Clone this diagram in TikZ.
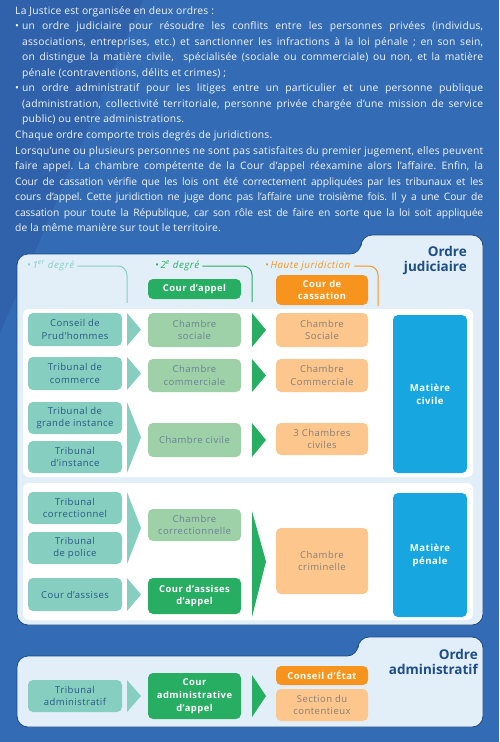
\documentclass[tikz,border=0pt]{standalone}
\usepackage{fontspec}
\setmainfont{Open Sans}
\newfontfamily\boxfont[LetterSpace=5]{Open Sans}
\newfontfamily\introfont[LetterSpace=2]{Open Sans}
\usetikzlibrary{positioning, calc}
\definecolor{bgblue}{HTML}{336CB4}
\definecolor{bgdark}{HTML}{2F62AA}
\definecolor{panel}{HTML}{E3EFF8}
\definecolor{edge}{HTML}{1C4A84}
\definecolor{navy}{HTML}{1D4E89}
\definecolor{tealc}{HTML}{86CFC0}
\definecolor{sage}{HTML}{9FD1A9}
\definecolor{leaf}{HTML}{27AE62}
\definecolor{peach}{HTML}{FDC68C}
\definecolor{amber}{HTML}{F7941D}
\definecolor{sky}{HTML}{17A6DF}
\definecolor{boxtext}{HTML}{285885}
\definecolor{greytext}{HTML}{6A8293}
\definecolor{peachtext}{HTML}{868079}

\begin{document}
\begin{tikzpicture}[
    x=1pt, y=-1pt,
    box/.style={rectangle, rounded corners=5pt, minimum height=33pt, inner sep=1pt, outer sep=0pt, align=center, font=\boxfont\fontsize{9.5}{12.8}\selectfont},
    firstbox/.style={box, fill=tealc, text=boxtext, minimum width=94pt},
    chambox/.style={box, fill=sage, text=greytext, minimum width=93pt},
    cassbox/.style={box, fill=peach, text=peachtext, minimum width=92pt},
    appelbox/.style={box, fill=leaf, text=white, minimum width=93pt, font=\boxfont\bfseries\fontsize{9.4}{12.8}\selectfont},
    hautebox/.style={box, fill=amber, text=white, minimum width=92pt, font=\boxfont\bfseries\fontsize{9.4}{12.8}\selectfont},
    matbox/.style={box, fill=sky, text=white, minimum width=74pt, font=\boxfont\bfseries\fontsize{9.6}{13}\selectfont},
    degre/.style={anchor=west, inner sep=0pt, font=\boxfont\itshape\fontsize{9.8}{10}\selectfont},
    ordre/.style={anchor=north east, inner sep=0pt, align=right, text=navy, font=\bfseries\fontsize{13.5}{15.5}\selectfont},
    panelpath/.style={fill=panel, draw=edge, line width=0.8pt, rounded corners=11pt},
    innerpanel/.style={fill=white, rounded corners=6pt},
    chev/.style={fill=tealc},
    gchev/.style={fill=leaf},
    hline/.style={line width=1pt, rounded corners=9pt},
]

\useasboundingbox (0,0) rectangle (499,742);

% ── Background ──
\fill[bgblue] (0,0) rectangle (499,742);
\fill[bgdark] (0,0) -- (143,0) -- (0,333) -- cycle;

% ── Introduction ──
\node[anchor=north west, text width=468pt, inner sep=0pt, align=justify, text=white!94!bgblue,
      font=\introfont\fontsize{10.3}{15.55}\selectfont] (intro) at (15,6) {%
\parindent=0pt\frenchspacing\lineskiplimit=-5pt
La Justice est organisée en deux ordres :\par
\hangindent=7pt\hangafter=1
\makebox[7pt][l]{•}un ordre judiciaire pour résoudre les conflits entre les personnes privées (individus,\linebreak
associations, entreprises, etc.) et sanctionner les infractions à la loi pénale ; en son sein,\linebreak
on distingue la matière civile,\ \ spécialisée (sociale ou commerciale) ou non, et la matière\linebreak
pénale (contraventions, délits et crimes) ;\par
\hangindent=7pt\hangafter=1
\makebox[7pt][l]{•}un ordre administratif pour les litiges entre un particulier et une personne publique\linebreak
(administration, collectivité territoriale, personne privée chargée d’une mission de service\linebreak
public) ou entre administrations.\par
Chaque ordre comporte trois degrés de juridictions.\par
Lorsqu’une ou plusieurs personnes ne sont pas satisfaites du premier jugement, elles peuvent\linebreak
faire appel. La chambre compétente de la Cour d’appel réexamine alors l’affaire. Enfin, la\linebreak
{\addfontfeatures{LetterSpace=-1}Cour de cassation vérifie que les lois ont été correctement appliquées par les tribunaux et les}\linebreak
{\addfontfeatures{LetterSpace=-1}cours d’appel. Cette juridiction ne juge donc pas l’affaire une troisième fois. Il y a une Cour de}\linebreak
{\addfontfeatures{LetterSpace=-1}cassation pour toute la République, car son rôle est de faire en sorte que la loi soit appliquée}\linebreak
de la même manière sur tout le territoire.};

% ── Ordre judiciaire panel ──
\draw[panelpath] (17,450) -- (17,254) -- (361,254) -- (361,235) -- (483,235) -- (483,625) -- (17,625) -- cycle;
\fill[innerpanel] (23,309) rectangle (473,477);
\fill[innerpanel] (23,483) rectangle (473,620);
\node[ordre] (oj) at (467,246) {Ordre\\judiciaire};

% ── Degrees ──
\node[degre, text=tealc] (h1) at (27,266) {•\,1\textsuperscript{er} degré};
\node[degre, text=leaf] (h2) at (155,266) {•\,2\textsuperscript{e} degré};
\node[degre, text=amber] (h3) at (265,266) {•\,Haute juridiction};
\node[appelbox, minimum height=20pt] (cap) at (194.5,289) {Cour d’appel};
\node[hautebox, minimum height=30pt] (ccass) at (322,290) {Cour de\\cassation};

% ── Matière civile ──
\node[firstbox] (pr) at (75,329.5) {Conseil de\\Prud’hommes};
\node[firstbox] (tc) at (75,373.5) {Tribunal de\\commerce};
\node[firstbox, minimum height=32pt] (tgi) at (75,418) {Tribunal de\\grande instance};
\node[firstbox, minimum height=32pt, below=7pt of tgi] (ti) {Tribunal\\d’instance};
\node[chambox, minimum height=34pt] (cs) at (194.5,330) {Chambre\\sociale};
\node[chambox] (cc) at (194.5,375.5) {Chambre\\commerciale};
\node[chambox, minimum height=34pt] (cciv) at (194.5,440) {Chambre civile};
\node[cassbox, minimum height=34pt] (ccs) at (322,330) {Chambre\\Sociale};
\node[cassbox] (ccc) at (322,375.5) {Chambre\\Commerciale};
\node[cassbox, minimum height=32pt] (c3) at (322,439) {3 Chambres\\civiles};
\node[matbox, minimum height=158pt] (civ) at (430,394) {Matière\\civile};

% ── Matière pénale ──
\node[firstbox, minimum height=32pt] (tcor) at (75,508) {Tribunal\\correctionnel};
\node[firstbox, minimum height=32pt, below=8pt of tcor] (tpol) {Tribunal\\de police};
\node[firstbox] (cass) at (75,594.5) {Cour d’assises};
\node[chambox, minimum height=32pt] (ccor) at (194.5,525) {Chambre\\correctionnelle};
\node[appelbox, minimum height=36pt] (caa) at (194.5,596) {Cour d’assises\\d’appel};
\node[cassbox, minimum height=66pt] (ccrim) at (322,561) {Chambre\\criminelle};
\node[matbox, minimum height=124pt] (pen) at (430,555) {Matière\\pénale};

% ── Ordre administratif panel ──
\draw[panelpath] (17,690) -- (17,656) -- (358,656) -- (358,637) -- (483,637) -- (483,727) -- (17,727) -- cycle;
\node[ordre] (oa) at (478,649) {Ordre\\administratif};
\node[firstbox, minimum height=32pt] (ta) at (75,696) {Tribunal\\administratif};
\node[appelbox, minimum height=46pt] (cada) at (194.5,696) {Cour\\administrative\\d’appel};
\node[hautebox, minimum height=19pt] (ce) at (322,675.5) {Conseil d’État};
\node[cassbox, minimum height=32pt, below=4pt of ce] (sc) {Section du\\contentieux};

% ── Degree lines ──
\draw[hline, tealc] ([xshift=3pt]h1.east) -| ([xshift=5pt,yshift=10pt]pr.north east);
\draw[hline, leaf] ([xshift=3pt]h2.east) -| ([xshift=11pt,yshift=11pt]cs.north east);
\draw[hline, amber] ([xshift=4pt]h3.east) -| ([xshift=10pt,yshift=7pt]ccs.north east);

% ── Chevrons ──
\fill[chev] ([xshift=5pt]pr.north east) -- ([xshift=19pt]pr.east) -- ([xshift=5pt]pr.south east) -- cycle;
\fill[chev] ([xshift=5pt]tc.north east) -- ([xshift=19pt]tc.east) -- ([xshift=5pt]tc.south east) -- cycle;
\fill[chev] ([xshift=5pt]tgi.north east) -- ($(tgi.north east)!.5!(ti.south east)+(19,0)$) -- ([xshift=5pt]ti.south east) -- cycle;
\fill[chev] ([xshift=5pt]tcor.north east) -- ($(tcor.north east)!.5!(tpol.south east)+(19,0)$) -- ([xshift=5pt]tpol.south east) -- cycle;
\fill[chev] ([xshift=5pt]cass.north east) -- ([xshift=19pt]cass.east) -- ([xshift=5pt]cass.south east) -- cycle;
\fill[chev] ([xshift=5pt]ta.north east) -- ([xshift=19pt]ta.east) -- ([xshift=5pt]ta.south east) -- cycle;
\fill[gchev] ([xshift=11pt]cs.north east) -- ([xshift=25pt]cs.east) -- ([xshift=11pt]cs.south east) -- cycle;
\fill[gchev] ([xshift=11pt]cc.north east) -- ([xshift=25pt]cc.east) -- ([xshift=11pt]cc.south east) -- cycle;
\fill[gchev] ([xshift=11pt]cciv.north east) -- ([xshift=25pt]cciv.east) -- ([xshift=11pt]cciv.south east) -- cycle;
\fill[gchev] ([xshift=11pt,yshift=-2pt]ccor.north east) -- ($(ccor.north east)!.5!(caa.south east)+(25,0)$) -- ([xshift=11pt,yshift=-3pt]caa.south east) -- cycle;
\fill[gchev] ([xshift=11pt,yshift=-2pt]cada.north east) -- ([xshift=25pt]cada.east) -- ([xshift=11pt,yshift=2pt]cada.south east) -- cycle;

\end{tikzpicture}
\end{document}
